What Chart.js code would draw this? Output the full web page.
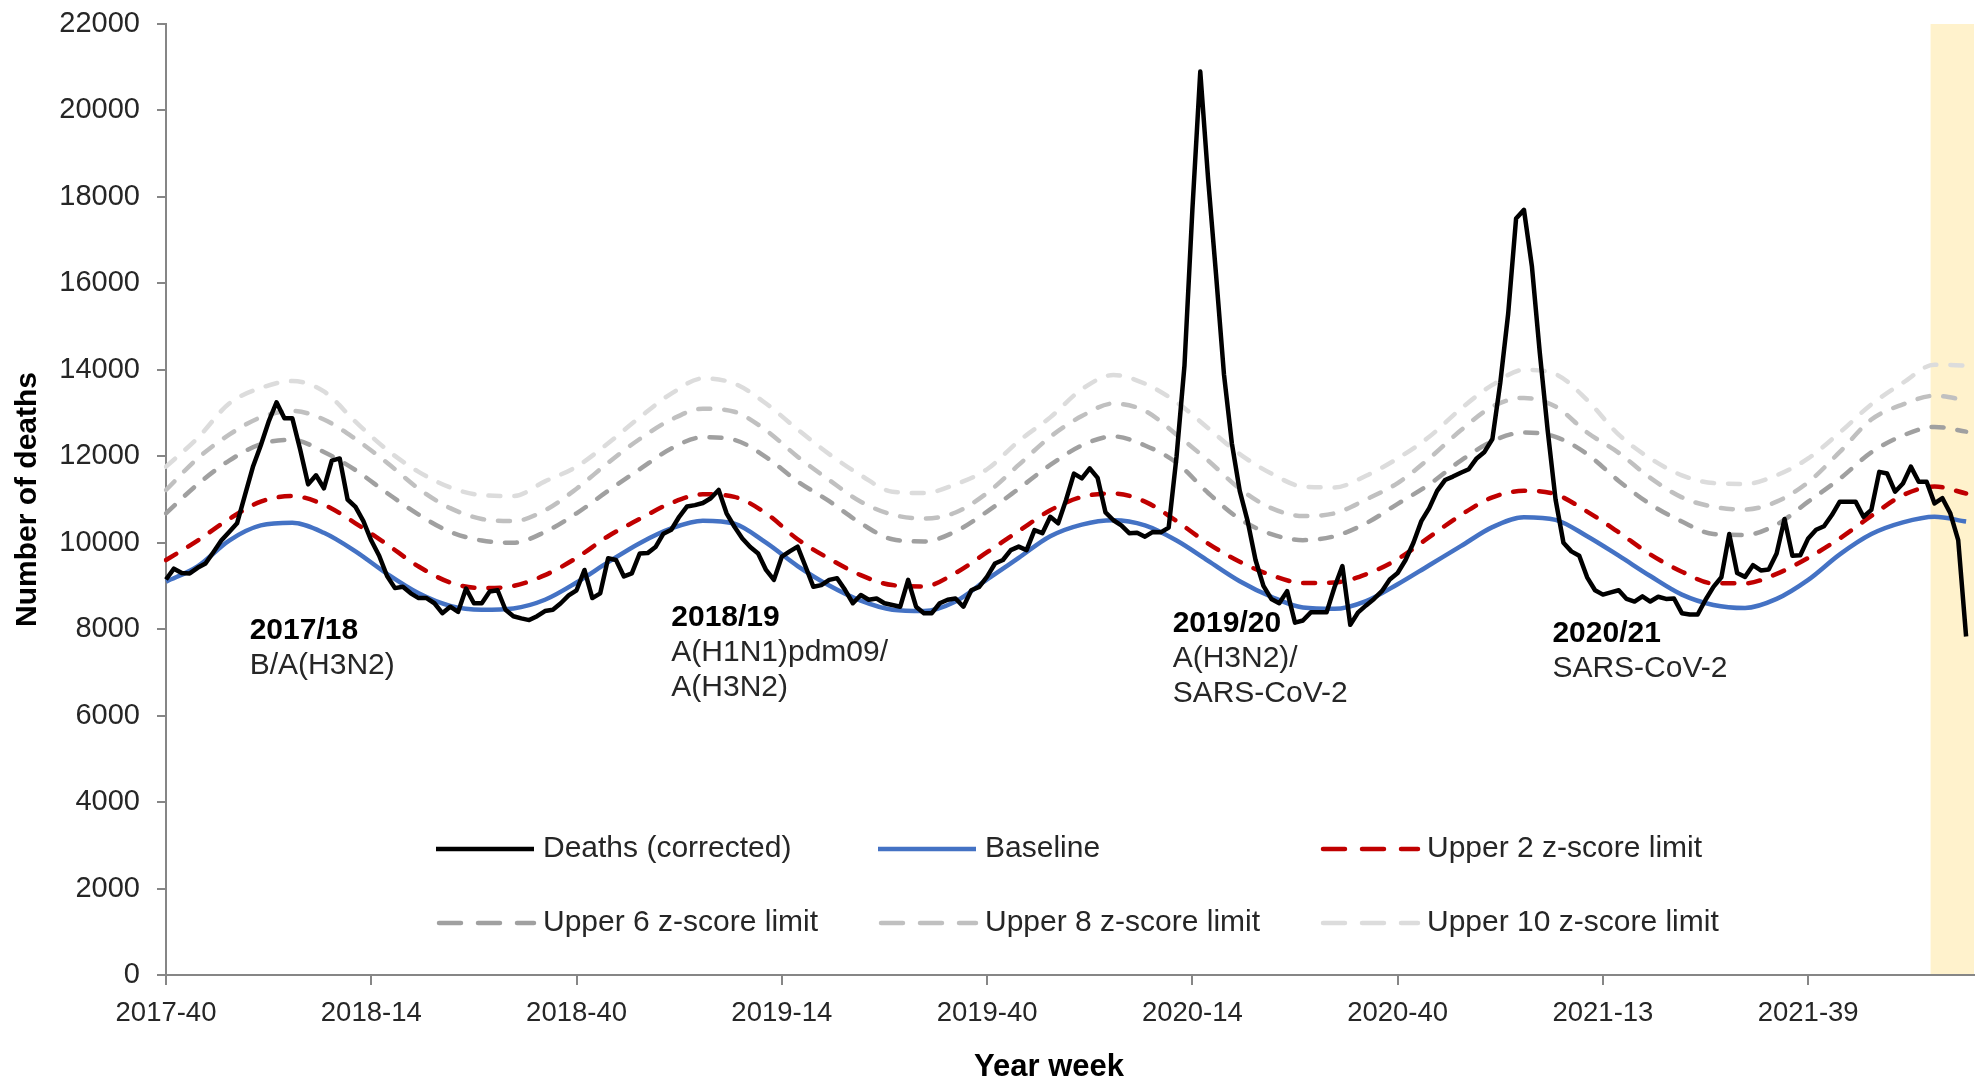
<!DOCTYPE html>
<html>
<head>
<meta charset="utf-8">
<script src="https://cdn.jsdelivr.net/npm/chart.js@4.4.0/dist/chart.umd.min.js"></script>
<style>
  html, body { margin: 0; padding: 0; background: #fff; }
  #wrap { width: 1980px; height: 1081px; }
</style>
</head>
<body>
<div id="wrap"><canvas id="chart" width="1980" height="1081"></canvas></div>
<script>
// Year-week categories, 2017-40 .. 2022-08 (2020 has 53 weeks)
const weeksInYear = { 2017: 52, 2018: 52, 2019: 52, 2020: 53, 2021: 52, 2022: 52 };
const weeks = [];
let yr = 2017, wk = 40;
for (let i = 0; i < 230; i++) {
  weeks.push(yr + '-' + String(wk).padStart(2, '0'));
  wk++;
  if (wk > weeksInYear[yr]) { yr++; wk = 1; }
}

const tickLabels = ['2017-40', '2018-14', '2018-40', '2019-14', '2019-40', '2020-14', '2020-40', '2021-13', '2021-39'];

// weekly deaths (corrected), 2017-40 .. 2022-07
const deaths = [
  9150, 9400, 9300, 9290, 9420, 9520, 9780, 10050, 10250, 10450,
  11100, 11750, 12250, 12800, 13250, 12880, 12880, 12150, 11350, 11560,
  11260, 11900, 11950, 11000, 10830, 10500, 10050, 9700, 9230, 8950,
  8980, 8830, 8720, 8720, 8600, 8370, 8520, 8400, 8940, 8600,
  8600, 8870, 8900, 8450, 8300, 8250, 8210, 8300, 8420, 8450,
  8600, 8780, 8900, 9370, 8720, 8830, 9640, 9600, 9220, 9290,
  9750, 9760, 9900, 10210, 10300, 10600, 10840, 10870, 10920, 11030,
  11220, 10680, 10370, 10100, 9900, 9750, 9370, 9140, 9680, 9800,
  9910, 9450, 8980, 9020, 9140, 9180, 8910, 8600, 8790, 8680,
  8710, 8600, 8560, 8520, 9140, 8520, 8370, 8370, 8600, 8680,
  8710, 8520, 8900, 8980, 9215, 9520, 9600, 9830, 9910, 9830,
  10290, 10220, 10600, 10450, 10990, 11600, 11490, 11720, 11500, 10700,
  10520, 10400, 10220, 10230, 10140, 10250, 10240, 10350, 12000, 14100,
  17700, 20900, 18400, 16200, 13900, 12300, 11200, 10500, 9600, 9000,
  8700, 8600, 8880, 8150, 8200, 8390, 8390, 8390, 8970, 9460,
  8100, 8390, 8550, 8700, 8880, 9150, 9300, 9600, 10000, 10500,
  10800, 11200, 11450, 11530, 11620, 11700, 11950, 12100, 12400, 13700,
  15300, 17500, 17700, 16400, 14400, 12600, 11000, 10000, 9800, 9700,
  9200, 8900, 8800, 8850, 8900, 8700, 8640, 8760, 8640, 8750,
  8700, 8710, 8370, 8340, 8340, 8680, 8980, 9200, 10200, 9300,
  9210, 9480, 9360, 9380, 9750, 10550, 9700, 9710, 10100, 10300,
  10380, 10640, 10950, 10950, 10950, 10600, 10760, 11640, 11600, 11180,
  11370, 11760, 11410, 11410, 10910, 11030, 10680, 10060, 7830
];

// baseline and limits, read every 4th week
const limitWeeks = weeks.filter((w, i) => i % 4 === 0 && i <= 228);

const baseline = [
  9100, 9450, 10050, 10400, 10460, 10230, 9800, 9280, 8830, 8540,
  8450, 8480, 8680, 9080, 9550, 9990, 10330, 10510, 10440, 10000,
  9460, 9010, 8660, 8450, 8420, 8640, 9150, 9650, 10150, 10420,
  10520, 10400, 10050, 9580, 9110, 8750, 8500, 8470, 8650, 9040,
  9480, 9920, 10360, 10590, 10530, 10150, 9700, 9230, 8800, 8560,
  8490, 8700, 9140, 9730, 10200, 10470, 10600, 10490
];
const upper2 = [
  9600, 10050, 10550, 10950, 11080, 10880, 10450, 9960, 9450, 9080,
  8950, 9000, 9250, 9650, 10150, 10550, 10920, 11120, 11060, 10680,
  10080, 9630, 9250, 9020, 8990, 9300, 9780, 10270, 10750, 11060,
  11140, 10950, 10500, 9980, 9560, 9250, 9070, 9080, 9270, 9620,
  10130, 10640, 11050, 11200, 11120, 10720, 10240, 9730, 9330, 9060,
  9060, 9280, 9650, 10100, 10620, 11100, 11300, 11140
];
const upper6 = [
  10680, 11350, 11900, 12280, 12380, 12100, 11680, 11150, 10650, 10250,
  10050, 10000, 10250, 10680, 11200, 11700, 12180, 12440, 12380, 11980,
  11420, 10960, 10450, 10080, 10030, 10260, 10720, 11250, 11800, 12250,
  12460, 12250, 11850, 11150, 10550, 10200, 10060, 10150, 10450, 10900,
  11350, 11900, 12350, 12550, 12450, 12050, 11430, 10890, 10490, 10200,
  10180, 10420, 10950, 11480, 12090, 12480, 12680, 12570
];
const upper8 = [
  11220, 11950, 12500, 12900, 13050, 12850, 12400, 11850, 11250, 10800,
  10550, 10500, 10750, 11250, 11850, 12400, 12850, 13100, 13030, 12600,
  11990, 11450, 10950, 10650, 10560, 10700, 11150, 11800, 12450, 12930,
  13220, 13050, 12500, 11900, 11250, 10800, 10620, 10680, 11000, 11380,
  11950, 12600, 13150, 13350, 13150, 12550, 12080, 11500, 11050, 10830,
  10770, 10950, 11400, 12100, 12850, 13200, 13400, 13300
];
const upper10 = [
  11760, 12420, 13220, 13580, 13740, 13500, 12800, 12150, 11640, 11280,
  11100, 11080, 11420, 11760, 12300, 12900, 13450, 13800, 13680, 13220,
  12620, 12050, 11560, 11180, 11150, 11350, 11700, 12350, 12900, 13550,
  13880, 13680, 13250, 12650, 12050, 11600, 11300, 11280, 11550, 11950,
  12450, 13100, 13650, 14000, 13900, 13300, 12500, 11950, 11560, 11380,
  11360, 11560, 11950, 12550, 13200, 13700, 14120, 14100
];

const seasonNotes = [
  { at: 10.6, value: 7960, title: '2017/18', lines: ['B/A(H3N2)'] },
  { at: 64.0, value: 8270, title: '2018/19', lines: ['A(H1N1)pdm09/', 'A(H3N2)'] },
  { at: 127.5, value: 8120, title: '2019/20', lines: ['A(H3N2)/', 'SARS-CoV-2'] },
  { at: 175.6, value: 7890, title: '2020/21', lines: ['SARS-CoV-2'] }
];
const shadeFrom = '2022-03';

const FONT = "'Liberation Sans', Arial, sans-serif";
const pts = vals => vals.map((v, i) => ({ x: limitWeeks[i], y: v }));

function dashed(label, values, color) {
  return {
    label, data: pts(values), borderColor: color, borderWidth: 4.5,
    borderDash: [12, 14], borderCapStyle: 'round',
    pointRadius: 0, cubicInterpolationMode: 'monotone', fill: false
  };
}

// pale band over the most recent weeks
const shadePlugin = {
  id: 'shade',
  beforeDatasetsDraw(chart) {
    const { ctx, chartArea, scales } = chart;
    const i = weeks.indexOf(shadeFrom);
    const x0 = (scales.x.getPixelForValue(i - 1) + scales.x.getPixelForValue(i)) / 2;
    ctx.save();
    ctx.fillStyle = '#FFF2CC';
    ctx.fillRect(x0, chartArea.top, chartArea.right - x0, chartArea.bottom - chartArea.top - 1);
    ctx.restore();
  }
};

const notesPlugin = {
  id: 'notes',
  afterDatasetsDraw(chart) {
    const { ctx, scales } = chart;
    ctx.save();
    ctx.textBaseline = 'middle';
    ctx.textAlign = 'left';
    seasonNotes.forEach(n => {
      const x = scales.x.getPixelForValue(n.at);
      let y = scales.y.getPixelForValue(n.value);
      ctx.font = 'bold 30px ' + FONT;
      ctx.fillStyle = '#000';
      ctx.fillText(n.title, x, y);
      ctx.font = '30px ' + FONT;
      ctx.fillStyle = '#262626';
      n.lines.forEach(t => { y += 35; ctx.fillText(t, x, y); });
    });
    ctx.restore();
  }
};

// legend in a 3 x 2 grid inside the plot, plus the x axis title
const legendPlugin = {
  id: 'gridLegend',
  afterDraw(chart) {
    const { ctx, chartArea } = chart;
    ctx.save();
    ctx.font = '30px ' + FONT;
    ctx.textBaseline = 'middle';
    ctx.textAlign = 'left';
    chart.data.datasets.forEach((ds, i) => {
      const col = i % 3, row = Math.floor(i / 3);
      const x = chartArea.left + 270 + col * 442;
      const y = 849 + row * 74;
      ctx.strokeStyle = ds.borderColor;
      ctx.lineWidth = ds.borderWidth;
      ctx.lineCap = ds.borderDash ? 'round' : 'butt';
      ctx.setLineDash(ds.borderDash ? [22, 17] : []);
      ctx.beginPath();
      ctx.moveTo(x + (ds.borderDash ? 3 : 0), y);
      ctx.lineTo(x + 98, y);
      ctx.stroke();
      ctx.setLineDash([]);
      ctx.fillStyle = '#262626';
      ctx.fillText(ds.label, x + 107, y);
    });
    ctx.font = 'bold 31px ' + FONT;
    ctx.fillStyle = '#000';
    ctx.textAlign = 'center';
    ctx.fillText('Year week', (chartArea.left + chartArea.right) / 2 - 21, 1067);
    ctx.restore();
  }
};

const ctx = document.getElementById('chart').getContext('2d');
new Chart(ctx, {
  type: 'line',
  data: {
    labels: weeks,
    datasets: [
      { label: 'Deaths (corrected)', data: deaths, borderColor: '#000000', borderWidth: 4.5,
        borderJoinStyle: 'round', pointRadius: 0, tension: 0, fill: false },
      { label: 'Baseline', data: pts(baseline), borderColor: '#4472C4', borderWidth: 4.5,
        pointRadius: 0, cubicInterpolationMode: 'monotone', fill: false },
      dashed('Upper 2 z-score limit', upper2, '#C00000'),
      dashed('Upper 6 z-score limit', upper6, '#A0A0A0'),
      dashed('Upper 8 z-score limit', upper8, '#C0C0C0'),
      dashed('Upper 10 z-score limit', upper10, '#DCDCDC')
    ]
  },
  options: {
    responsive: false,
    animation: false,
    devicePixelRatio: 1,
    layout: { padding: { left: 10, right: 6, top: 24, bottom: 0 } },
    plugins: { legend: { display: false }, tooltip: { enabled: false } },
    scales: {
      x: {
        type: 'category',
        offset: false,
        afterFit: s => { s.height = 106; },
        grid: { drawOnChartArea: false, drawTicks: true, tickLength: 10, color: '#868686', lineWidth: 2 },
        border: { display: true, color: '#868686', width: 2 },
        ticks: {
          autoSkip: false, maxRotation: 0, minRotation: 0, padding: 12,
          color: '#262626', font: { family: FONT, size: 27.5 },
          callback: (v, i) => tickLabels.includes(weeks[i]) ? weeks[i] : null
        },
        title: { display: false }
      },
      y: {
        min: 0, max: 22000,
        afterFit: s => { s.width = 156; s.paddingTop = 0; s.paddingBottom = 0; },
        grid: { drawOnChartArea: false, drawTicks: true, tickLength: 9, color: '#868686', lineWidth: 2 },
        border: { display: true, color: '#868686', width: 2 },
        ticks: { stepSize: 2000, padding: 17, color: '#262626', font: { family: FONT, size: 29 },
          callback: v => String(v) },
        title: { display: true, text: 'Number of deaths', color: '#000',
          font: { family: FONT, size: 30, weight: 'bold' }, padding: 0 }
      }
    }
  },
  plugins: [shadePlugin, notesPlugin, legendPlugin]
});
</script>
</body>
</html>
